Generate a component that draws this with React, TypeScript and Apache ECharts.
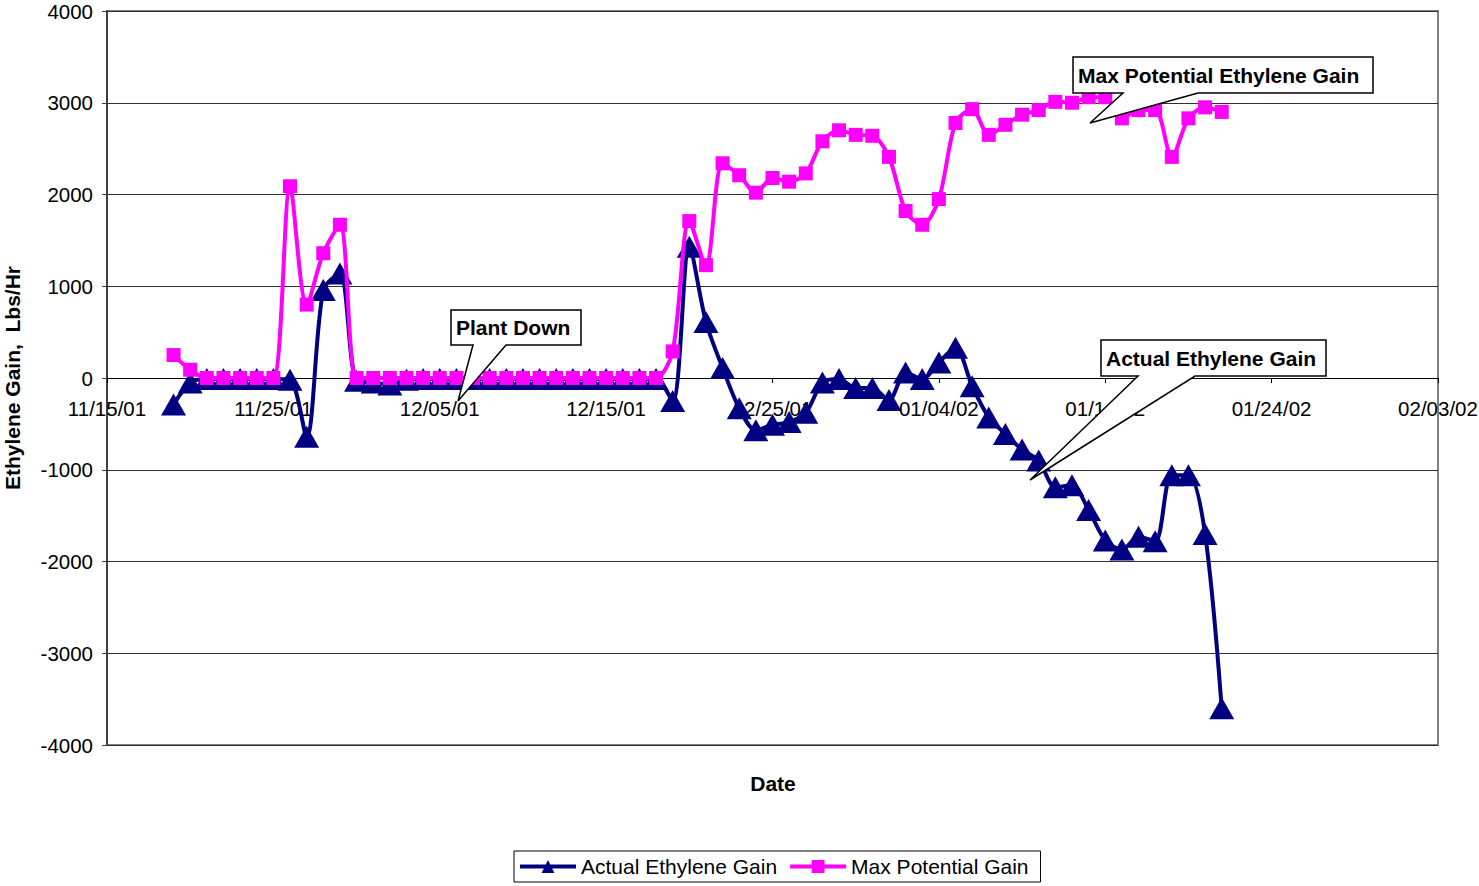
import React, { useEffect, useRef } from "react";
import * as echarts from "echarts";

const dates = [
  "11/19/01", "11/20/01", "11/21/01", "11/22/01", "11/23/01", "11/24/01", "11/25/01", "11/26/01",
  "11/27/01", "11/28/01", "11/29/01", "11/30/01", "12/01/01", "12/02/01", "12/03/01", "12/04/01",
  "12/05/01", "12/06/01", "12/07/01", "12/08/01", "12/09/01", "12/10/01", "12/11/01", "12/12/01",
  "12/13/01", "12/14/01", "12/15/01", "12/16/01", "12/17/01", "12/18/01", "12/19/01", "12/20/01",
  "12/21/01", "12/22/01", "12/23/01", "12/24/01", "12/25/01", "12/26/01", "12/27/01", "12/28/01",
  "12/29/01", "12/30/01", "12/31/01", "01/01/02", "01/02/02", "01/03/02", "01/04/02", "01/05/02",
  "01/06/02", "01/07/02", "01/08/02", "01/09/02", "01/10/02", "01/11/02", "01/12/02", "01/13/02",
  "01/14/02", "01/15/02", "01/16/02", "01/17/02", "01/18/02", "01/19/02", "01/20/02", "01/21/02",
];

const actualGain = [
  -290, -50, -10, -10, -10, -10, -10, -20, -640, 960, 1140, -30, -50, -70, -20, -10,
  -10, -10, -10, -10, -10, -10, -10, -10, -10, -10, -10, -10, -10, -10, -250, 1430,
  610, 110, -330, -570, -510, -480, -380, -50, -10, -110, -110, -240, 60, -10,
  170, 330, -90, -430, -610, -780, -900, -1190, -1170, -1440, -1770, -1870, -1730, -1780, -1060, -1060,
  -1700, -3600,
];

const maxPotentialGain = [
  250, 90, 0, 0, 0, 0, 0, 2090, 800, 1360, 1670, 0, 0, 0, 0, 0,
  0, 0, 0, 0, 0, 0, 0, 0, 0, 0, 0, 0, 0, 0, 290, 1710,
  1230, 2340, 2210, 2020, 2180, 2140, 2230, 2580, 2700, 2650, 2640, 2410, 1820, 1670,
  1950, 2780, 2930, 2650, 2760, 2870, 2920, 3010, 3000, 3060, 3060, 2830, 2920, 2920, 2410, 2830,
  2950, 2900,
];

const xTickLabels = [
  "11/15/01", "11/25/01", "12/05/01", "12/15/01", "12/25/01",
  "01/04/02", "01/14/02", "01/24/02", "02/03/02",
];

const seriesNames = ["Actual Ethylene Gain", "Max Potential Gain"];
const annotations = ["Plant Down", "Max Potential Ethylene Gain", "Actual Ethylene Gain"];

const FONT = "'Liberation Sans', Arial, sans-serif";

function toUTC(s: string): number {
  const [m, d, y] = s.split("/").map(Number);
  return Date.UTC(2000 + y, m - 1, d);
}
const ORIGIN = toUTC(xTickLabels[0]);
function dayIndex(s: string): number {
  return Math.round((toUTC(s) - ORIGIN) / 86400000);
}

function callout(
  text: string,
  box: [number, number, number, number],
  wedge: [number, number],
  tip: [number, number]
) {
  const [x1, y1, x2, y2] = box;
  return [
    {
      type: "polygon",
      z: 100,
      shape: {
        points: [
          [x1, y1],
          [x2, y1],
          [x2, y2],
          [wedge[1], y2],
          tip,
          [wedge[0], y2],
          [x1, y2],
        ],
      },
      style: { fill: "#ffffff", stroke: "#000000", lineWidth: 1.5 },
    },
    {
      type: "text",
      z: 101,
      x: x1 + 5,
      y: (y1 + y2) / 2,
      style: {
        text,
        font: `bold 21px ${FONT}`,
        fill: "#000000",
        verticalAlign: "middle",
        align: "left",
      },
    },
  ];
}

export default function App() {
  const ref = useRef<HTMLDivElement>(null);

  useEffect(() => {
    if (!ref.current) return;
    const chart = echarts.init(ref.current, undefined, { renderer: "svg" });
    const xs = dates.map(dayIndex);

    const option: any = {
      animation: false,
      backgroundColor: "#ffffff",
      textStyle: { fontFamily: FONT },
      grid: {
        left: 107,
        right: 41,
        top: 11,
        bottom: 141,
        containLabel: false,
        outerBoundsMode: "none",
        show: true,
        borderColor: "#808080",
        borderWidth: 2,
        backgroundColor: "transparent",
      },
      legend: {
        data: seriesNames,
        left: 514,
        top: 851,
        orient: "horizontal",
        padding: [5, 12, 5, 4],
        itemGap: 11,
        itemWidth: 56,
        itemHeight: 16,
        borderColor: "#000000",
        borderWidth: 1,
        lineStyle: { width: 4 },
        textStyle: { fontSize: 21, color: "#000000", fontFamily: FONT },
      },
      xAxis: {
        type: "value",
        min: 0,
        max: 80,
        interval: 10,
        offset: -367,
        axisLine: { show: true, onZero: false, lineStyle: { color: "#000000", width: 1 } },
        axisTick: { show: true, inside: false, length: 5, lineStyle: { color: "#000000" } },
        axisLabel: {
          show: true,
          margin: 20,
          fontSize: 20.5,
          color: "#000000",
          fontFamily: FONT,
          showMinLabel: true,
          showMaxLabel: true,
          formatter: (v: number) => xTickLabels[Math.round(v / 10)] ?? "",
        },
        splitLine: { show: false },
      },
      yAxis: {
        type: "value",
        min: -4000,
        max: 4000,
        interval: 1000,
        name: "Ethylene Gain,  Lbs/Hr",
        nameLocation: "middle",
        nameGap: 84,
        nameTextStyle: { fontSize: 21, fontWeight: "bold", color: "#000000", fontFamily: FONT },
        axisLine: { show: true, onZero: false, lineStyle: { color: "#404040", width: 2 } },
        axisTick: { show: true, inside: false, length: 5, lineStyle: { color: "#404040" } },
        axisLabel: {
          margin: 14,
          fontSize: 20.5,
          color: "#000000",
          fontFamily: FONT,
          formatter: (v: number) => String(v),
        },
        splitLine: { show: true, lineStyle: { color: "#303030", width: 1 } },
      },
      series: [
        {
          name: seriesNames[0],
          type: "line",
          data: xs.map((x, i) => [x, actualGain[i]]),
          smooth: 0.3,
          symbol: "triangle",
          symbolSize: [25, 22],
          showAllSymbol: true,
          lineStyle: { color: "#000080", width: 4 },
          itemStyle: { color: "#000080" },
          z: 2,
        },
        {
          name: seriesNames[1],
          type: "line",
          data: xs.map((x, i) => [x, maxPotentialGain[i]]),
          smooth: 0.3,
          symbol: "rect",
          symbolSize: 14,
          showAllSymbol: true,
          lineStyle: { color: "#FF00FF", width: 4 },
          itemStyle: { color: "#FF00FF" },
          z: 3,
        },
      ],
      graphic: [
        ...callout(annotations[0], [451, 310, 581, 345], [473, 506], [458, 401]),
        ...callout(annotations[1], [1073, 57, 1373, 93], [1123, 1198], [1090, 123]),
        ...callout(annotations[2], [1101, 340, 1326, 376], [1138, 1195], [1030, 480]),
        {
          type: "text",
          z: 101,
          x: 773,
          y: 783,
          style: {
            text: "Date",
            font: `bold 21px ${FONT}`,
            fill: "#000000",
            align: "center",
            verticalAlign: "middle",
          },
        },
      ],
    };

    chart.setOption(option);
    return () => chart.dispose();
  }, []);

  return (
    <div
      ref={ref}
      style={{ position: "fixed", left: 0, top: 0, width: 1479, height: 886, background: "#fff" }}
    />
  );
}
